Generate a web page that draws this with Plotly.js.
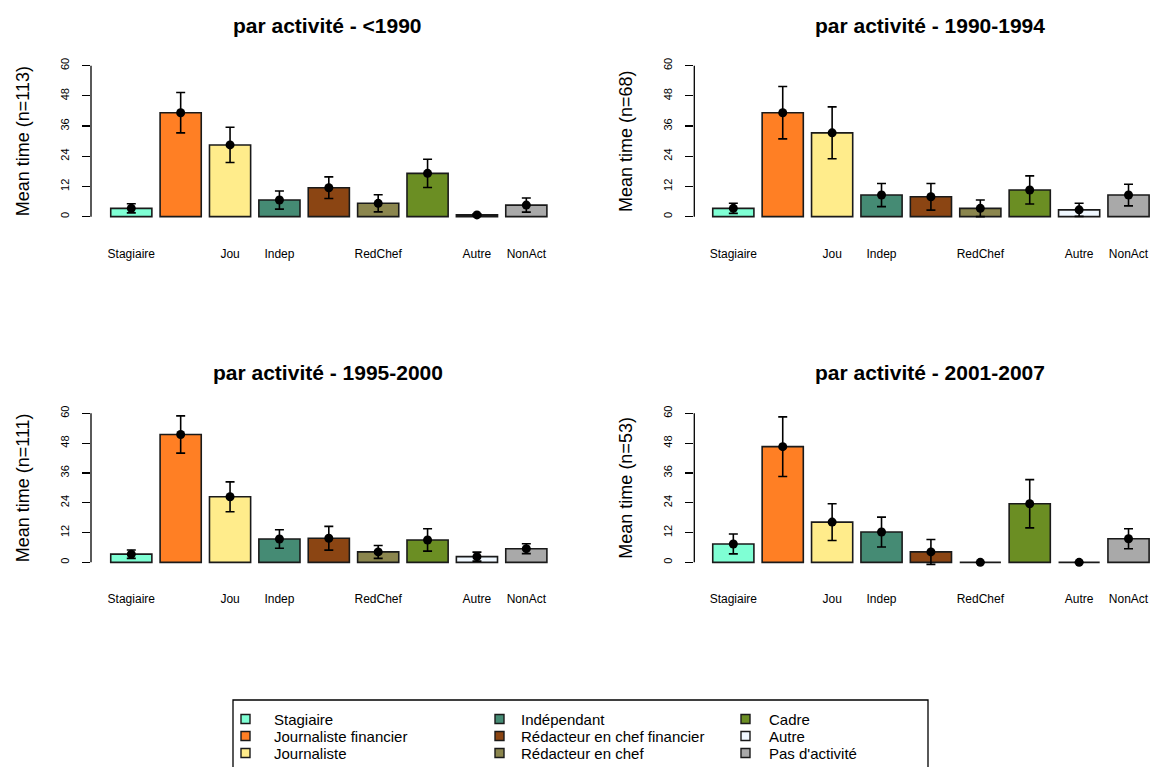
<!DOCTYPE html>
<html>
<head>
<meta charset="utf-8">
<script src="https://cdn.plot.ly/plotly-3.0.1.min.js"></script>
<style>html,body{margin:0;padding:0;background:#fff;overflow:hidden;}#chart{width:1151px;height:767px;}</style>
</head>
<body>
<div id="chart"></div>
<script>
// ---------- data ----------
const categories = ['Stagiaire', 'Journaliste financier', 'Journaliste', 'Indépendant',
  'Rédacteur en chef financier', 'Rédacteur en chef', 'Cadre', 'Autre', "Pas d'activité"];
const tickLabels = ['Stagiaire', '', 'Jou', 'Indep', '', 'RedChef', '', 'Autre', 'NonAct'];
const periods = ['<1990', '1990-1994', '1995-2000', '2001-2007'];
const nObs = [113, 68, 111, 53];
const yTicks = [0, 12, 24, 36, 48, 60];

const mean_lt1990 = [3.3, 41.3, 28.5, 6.6, 11.5, 5.3, 17.2, 0.7, 4.6];
const err_lt1990  = [1.8, 8.0, 7.0, 3.6, 4.3, 3.4, 5.6, 0.4, 2.8];
const mean_1990_1994 = [3.3, 41.3, 33.3, 8.6, 7.9, 3.3, 10.6, 2.7, 8.6];
const err_1990_1994  = [2.0, 10.4, 10.3, 4.6, 5.3, 3.3, 5.6, 2.6, 4.3];
const mean_1995_2000 = [3.3, 51.5, 26.4, 9.4, 9.7, 4.2, 9.0, 2.3, 5.5];
const err_1995_2000  = [1.7, 7.5, 6.0, 3.7, 4.8, 2.6, 4.5, 1.8, 2.0];
const mean_2001_2007 = [7.4, 46.6, 16.2, 12.2, 4.2, 0, 23.6, 0, 9.5];
const err_2001_2007  = [4.0, 12.0, 7.4, 6.0, 5.0, 0, 9.7, 0, 4.0];

const colors = ['#7FFFD4', '#FF7F24', '#FFEC8B', '#458B74', '#8B4513', '#8B864E', '#6B8E23', '#F0F8FF', '#A9A9A9'];

const means = [mean_lt1990, mean_1990_1994, mean_1995_2000, mean_2001_2007];
const errs = [err_lt1990, err_1990_1994, err_1995_2000, err_2001_2007];

// ---------- layout helpers ----------
const W = 1151, H = 767;
const px = v => v / W;
const py = v => 1 - v / H;
const FONT = 'Liberation Sans, Arial, sans-serif';

const panels = [
  {xd: [px(91), px(564)], xr: [-0.816, 8.763], yd: [py(222.7), py(59.6)], titleX: 327.5, titleY: 25},
  {xd: [px(694.3), 1], xr: [-0.79, 8.455], yd: [py(222.7), py(59.6)], titleX: 930, titleY: 25},
  {xd: [px(91), px(564)], xr: [-0.816, 8.763], yd: [py(568.3), py(407.4)], titleX: 327.5, titleY: 372},
  {xd: [px(694.3), 1], xr: [-0.79, 8.455], yd: [py(568.3), py(407.4)], titleX: 930, titleY: 372}
];

const traces = [];
const layout = {
  width: W, height: H,
  margin: {l: 0, r: 0, t: 0, b: 0},
  paper_bgcolor: '#fff', plot_bgcolor: 'rgba(0,0,0,0)',
  barmode: 'overlay', bargap: 1 / 6,
  font: {family: FONT, color: '#000'},
  annotations: [], shapes: [],
  showlegend: false
};

panels.forEach((p, i) => {
  const sfx = i === 0 ? '' : String(i + 1);
  const xa = 'x' + sfx, ya = 'y' + sfx;
  traces.push({
    type: 'bar', x: categories, y: means[i], xaxis: xa, yaxis: ya,
    marker: {color: colors, line: {color: '#1a1a1a', width: 1.6}},
    showlegend: false, hoverinfo: 'x+y'
  });
  traces.push({
    type: 'scatter', mode: 'markers', x: categories, y: means[i], xaxis: xa, yaxis: ya,
    marker: {color: '#000', size: 9},
    error_y: {type: 'data', array: errs[i], visible: true, color: '#000', thickness: 1.6, width: 4.5},
    showlegend: false, hoverinfo: 'y'
  });
  layout['xaxis' + sfx] = {
    domain: p.xd, range: p.xr, anchor: ya, type: 'category',
    categoryorder: 'array', categoryarray: categories,
    tickmode: 'array', tickvals: categories, ticktext: tickLabels,
    ticks: '', showline: false, showgrid: false, zeroline: false,
    tickfont: {family: FONT, size: 12, color: '#000'},
    ticklabelstandoff: 22, fixedrange: true
  };
  layout['yaxis' + sfx] = {
    domain: p.yd, range: [-2.4, 62.4], anchor: xa,
    tickmode: 'array', tickvals: yTicks, ticktext: yTicks.map(String),
    ticks: 'outside', ticklen: 8, tickwidth: 1.3, tickcolor: '#000',
    tickangle: -90, tickfont: {family: FONT, size: 11, color: '#000'},
    ticklabelstandoff: 9,
    showline: false, showgrid: false, zeroline: false,
    title: {text: 'Mean time (n=' + nObs[i] + ')', font: {family: FONT, size: 18, color: '#000'}, standoff: 24},
    automargin: false, fixedrange: true
  };
  layout.shapes.push({
    type: 'line', xref: xa + ' domain', yref: ya, x0: 0, x1: 0, y0: yTicks[0], y1: yTicks[yTicks.length - 1],
    line: {color: '#000', width: 1.3}
  });
  layout.annotations.push({
    xref: 'paper', yref: 'paper', x: px(p.titleX), y: py(p.titleY),
    xanchor: 'center', yanchor: 'middle', showarrow: false,
    text: 'par activité - ' + periods[i].replace('<', '&lt;'),
    font: {family: FONT, size: 21, color: '#000', weight: 'bold'}
  });
});

// ---------- legend (three columns, drawn as a boxed key) ----------
const legColSwatch = [241, 495, 741];
const legColText = [272, 519, 767];
const legRowY = [719, 736, 753];
categories.forEach((c, k) => {
  const col = Math.floor(k / 3), row = k % 3;
  layout.shapes.push({
    type: 'rect', xref: 'paper', yref: 'paper',
    x0: px(legColSwatch[col]), x1: px(legColSwatch[col] + 9),
    y0: py(legRowY[row] + 4.5), y1: py(legRowY[row] - 4.5),
    line: {color: '#1a1a1a', width: 1.4}, fillcolor: colors[k]
  });
  layout.annotations.push({
    xref: 'paper', yref: 'paper', x: px(legColText[col]), y: py(legRowY[row]),
    xanchor: 'left', yanchor: 'middle', showarrow: false, text: c,
    font: {family: FONT, size: 15, color: '#000'}
  });
});
layout.shapes.push({
  type: 'rect', xref: 'paper', yref: 'paper', x0: px(233), x1: px(928), y0: py(775), y1: py(700),
  line: {color: '#000', width: 1.3}, fillcolor: 'rgba(0,0,0,0)'
});

Plotly.newPlot('chart', traces, layout, {displayModeBar: false, staticPlot: true});
</script>
</body>
</html>
